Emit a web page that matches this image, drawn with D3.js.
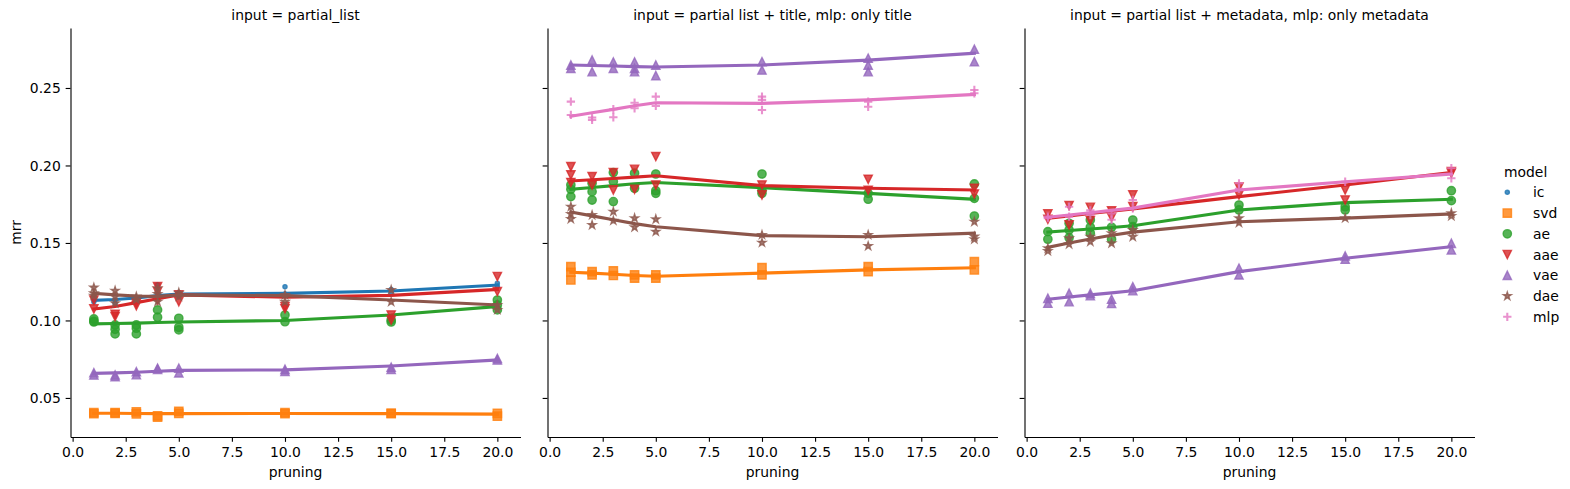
<!DOCTYPE html>
<html>
<head>
<meta charset="utf-8">
<script src="https://cdn.jsdelivr.net/npm/d3@7"></script>
<style>
  html, body { margin: 0; padding: 0; background: #fff; }
  svg { display: block; }
  text { font-family: "DejaVu Sans", sans-serif; fill: #000; }
</style>
</head>
<body>
<svg id="chart" width="1570" height="489"></svg>
<script>
// ---------------- DATA ----------------
const pruning = [1, 2, 3, 4, 5, 10, 15, 20];
const xTickValues = [0, 2.5, 5, 7.5, 10, 12.5, 15, 17.5, 20];
const yTickValues = [0.05, 0.10, 0.15, 0.20, 0.25];
const facetTitles = [
  "input = partial_list",
  "input = partial list + title, mlp: only title",
  "input = partial list + metadata, mlp: only metadata"
];
const models = ["ic", "svd", "ae", "aae", "vae", "dae", "mlp"];
const modelColors = ["#1f77b4", "#ff7f0e", "#2ca02c", "#d62728", "#9467bd", "#8c564b", "#e377c2"];
const modelMarkers = [".", "s", "o", "v", "^", "*", "+"];

// Panel 1: input = partial_list  (observed mrr per pruning value, and lowess fit)
const p1_ic      = [[0.114,0.112],[0.113,0.111],[0.115,0.113],[0.123,0.117],[0.118,0.116],[0.1218,0.117],[0.120,0.118],[0.124,0.122]];
const p1_ic_fit  = [0.113,0.1135,0.1145,0.116,0.117,0.1175,0.119,0.1228];
const p1_svd     = [[0.0405,0.0398],[0.0405,0.0400],[0.0410,0.0397],[0.0385,0.0376],[0.0413,0.0400],[0.0405,0.0398],[0.0402,0.0398],[0.0400,0.0382]];
const p1_svd_fit = [0.0401,0.0401,0.0400,0.0399,0.0399,0.0400,0.0399,0.0396];
const p1_ae      = [[0.101,0.099,0.0995],[0.0971,0.0943,0.0913],[0.0971,0.0950,0.0913],[0.1068,0.1021],[0.1014,0.0956,0.0939],[0.1035,0.0992],[0.1003,0.0990],[0.1132,0.1100,0.1068]];
const p1_ae_fit  = [0.0978,0.0980,0.0983,0.0987,0.0990,0.1000,0.1035,0.1090];
const p1_aae     = [[0.1132,0.1074],[0.1040,0.1025],[0.1110,0.1095],[0.1218,0.1186,0.1132],[0.1165,0.1121],[0.1090,0.1075],[0.1035,0.1003],[0.1283,0.1186]];
const p1_aae_fit = [0.1074,0.1090,0.1115,0.1140,0.1165,0.1150,0.1162,0.1200];
const p1_vae     = [[0.0663,0.0648],[0.0648,0.0638],[0.0669,0.0650],[0.0692,0.0685],[0.0692,0.0662],[0.0685,0.0672],[0.0698,0.0685],[0.0755,0.0745]];
const p1_vae_fit = [0.0659,0.0662,0.0666,0.0672,0.0678,0.0681,0.0706,0.0745];
const p1_dae     = [[0.1212,0.1175,0.1160],[0.1192,0.1154,0.1111],[0.1154,0.1135],[0.1208,0.1171,0.1121],[0.1179,0.1154],[0.1165,0.1120],[0.1197,0.1120],[0.1100,0.1068]];
const p1_dae_fit = [0.1175,0.1165,0.1158,0.1155,0.1165,0.1160,0.1132,0.1100];

// Panel 2: input = partial list + title
const p2_svd     = [[0.1347,0.1311,0.1261],[0.1315,0.1294],[0.1320,0.1290],[0.1294,0.1273],[0.1294,0.1273],[0.1341,0.1294],[0.1347,0.1315],[0.1379,0.1326]];
const p2_svd_fit = [0.1311,0.1305,0.1298,0.1290,0.1285,0.1305,0.1326,0.1340];
const p2_ae      = [[0.1874,0.1846,0.1799],[0.1885,0.1831,0.1777],[0.1954,0.1896,0.1767],[0.1950,0.1853],[0.1945,0.1837,0.1820],[0.1945,0.1840,0.1820],[0.1820,0.1782],[0.1881,0.1788,0.1674]];
const p2_ae_fit  = [0.1846,0.1858,0.1870,0.1882,0.1890,0.1857,0.1820,0.1782];
const p2_aae     = [[0.1992,0.1939,0.1890],[0.1928,0.1874],[0.1954,0.1842],[0.1975,0.1846],[0.2057,0.1874],[0.1874,0.1810],[0.1911,0.1840],[0.1853,0.1816]];
const p2_aae_fit = [0.1900,0.1908,0.1916,0.1925,0.1934,0.1870,0.1853,0.1842];
const p2_vae     = [[0.2648,0.2627],[0.2680,0.2605],[0.2668,0.2627],[0.2668,0.2627,0.2605],[0.2648,0.2580],[0.2670,0.2616],[0.2692,0.2648,0.2605],[0.2750,0.2670]];
const p2_vae_fit = [0.2648,0.2645,0.2642,0.2638,0.2635,0.2648,0.2680,0.2724];
const p2_dae     = [[0.1734,0.1687,0.1655],[0.1680,0.1616],[0.1702,0.1644],[0.1660,0.1601],[0.1653,0.1573],[0.1552,0.1502],[0.1552,0.1480],[0.1637,0.1541,0.1524]];
const p2_dae_fit = [0.1700,0.1675,0.1650,0.1625,0.1605,0.1547,0.1540,0.1563];
const p2_mlp     = [[0.2412,0.2326],[0.2310,0.2294],[0.2363,0.2311],[0.2405,0.2369],[0.2444,0.2384],[0.2444,0.2423,0.2358],[0.2412,0.2379],[0.2487,0.2466]];
const p2_mlp_fit = [0.2318,0.2340,0.2362,0.2385,0.2405,0.2401,0.2423,0.2458];

// Panel 3: input = partial list + metadata
const p3_ae      = [[0.1573,0.1524],[0.1627,0.1584,0.1534],[0.1648,0.1601,0.1563],[0.1601,0.1524],[0.1648,0.1605],[0.1745,0.1713],[0.1734,0.1713],[0.1837,0.1773]];
const p3_ae_fit  = [0.1570,0.1580,0.1590,0.1600,0.1611,0.1713,0.1760,0.1782];
const p3_aae     = [[0.1687,0.1653],[0.1741,0.1616],[0.1730,0.1645],[0.1707,0.1665],[0.1810,0.1734],[0.1860,0.1810],[0.1842,0.1777],[0.1960,0.1950]];
const p3_aae_fit = [0.1660,0.1675,0.1690,0.1705,0.1720,0.1799,0.1874,0.1955];
const p3_vae     = [[0.1143,0.1111],[0.1175,0.1121],[0.1175,0.1160],[0.1137,0.1110],[0.1218,0.1192],[0.1337,0.1294],[0.1416,0.1395],[0.1498,0.1455]];
const p3_vae_fit = [0.1137,0.1151,0.1165,0.1178,0.1192,0.1315,0.1401,0.1476];
const p3_dae     = [[0.1466,0.1448],[0.1530,0.1492],[0.1540,0.1508],[0.1563,0.1498],[0.1584,0.1540],[0.1660,0.1630],[0.1660],[0.1692,0.1674]];
const p3_dae_fit = [0.1472,0.1500,0.1525,0.1550,0.1570,0.1637,0.1660,0.1687];
const p3_mlp     = [[0.1670,0.1660],[0.1734,0.1670],[0.1710,0.1680],[0.1690,0.1650],[0.1777,0.1724],[0.1885,0.1850],[0.1895],[0.1982,0.1917]];
const p3_mlp_fit = [0.1665,0.1680,0.1695,0.1710,0.1725,0.1842,0.1895,0.1945];

const panelSeries = [
  { ic: [p1_ic, p1_ic_fit], svd: [p1_svd, p1_svd_fit], ae: [p1_ae, p1_ae_fit], aae: [p1_aae, p1_aae_fit], vae: [p1_vae, p1_vae_fit], dae: [p1_dae, p1_dae_fit] },
  { svd: [p2_svd, p2_svd_fit], ae: [p2_ae, p2_ae_fit], aae: [p2_aae, p2_aae_fit], vae: [p2_vae, p2_vae_fit], dae: [p2_dae, p2_dae_fit], mlp: [p2_mlp, p2_mlp_fit] },
  { ae: [p3_ae, p3_ae_fit], aae: [p3_aae, p3_aae_fit], vae: [p3_vae, p3_vae_fit], dae: [p3_dae, p3_dae_fit], mlp: [p3_mlp, p3_mlp_fit] }
];

// ---------------- LAYOUT ----------------
const FS = 13.9;
const panelLeft = [70.5, 547.5, 1024.5];
const panelW = 450;
const plotTop = 28, plotBottom = 437;
const tickLen = 4.86, tickPad = 4.86;
const ms = 8.333; // marker size px

const svg = d3.select("#chart");
svg.append("rect").attr("width", 1570).attr("height", 489).attr("fill", "#fff");

const y = d3.scaleLinear().domain([0.0248, 0.2887]).range([plotBottom, plotTop]);

function markerPath(m) {
  const r = ms / 2;
  const circ = rr => `M${rr},0A${rr},${rr} 0 1,1 ${-rr},0A${rr},${rr} 0 1,1 ${rr},0Z`;
  switch (m) {
    case ".": return circ(r * 0.5);
    case "o": return circ(r);
    case "s": return `M${-r},${-r}H${r}V${r}H${-r}Z`;
    case "v": return `M0,${r}L${-r},${-r}L${r},${-r}Z`;
    case "^": return `M0,${-r}L${-r},${r}L${r},${r}Z`;
    case "*": {
      const pts = [];
      for (let i = 0; i < 10; i++) {
        const a = -Math.PI / 2 + i * Math.PI / 5;
        const rad = i % 2 === 0 ? r : r * 0.381966;
        pts.push([rad * Math.cos(a), rad * Math.sin(a)]);
      }
      return "M" + pts.map(p => p[0].toFixed(3) + "," + p[1].toFixed(3)).join("L") + "Z";
    }
    case "+": return `M${-r},0H${r}M0,${-r}V${r}`;
  }
}
function styleMarker(sel, m, color) {
  if (m === "+") {
    sel.attr("fill", "none").attr("stroke", color).attr("stroke-width", 2.08).attr("stroke-opacity", 0.8);
  } else {
    sel.attr("fill", color).attr("fill-opacity", 0.8)
       .attr("stroke", color).attr("stroke-width", 1.39).attr("stroke-opacity", 0.8);
  }
}

panelSeries.forEach((series, pi) => {
  const x0 = panelLeft[pi];
  const x = d3.scaleLinear().domain([-0.1, 21.09]).range([x0, x0 + panelW]);
  const g = svg.append("g");

  // title
  g.append("text").attr("x", x0 + panelW / 2).attr("y", 19.7)
    .attr("text-anchor", "middle").attr("font-size", FS).text(facetTitles[pi]);

  // axes
  const xAxis = d3.axisBottom(x).tickValues(xTickValues).tickFormat(d3.format(".1f"))
    .tickSizeInner(tickLen).tickSizeOuter(0).tickPadding(tickPad);
  const gx = g.append("g").attr("transform", `translate(0,${plotBottom})`).call(xAxis);
  const yAxis = d3.axisLeft(y).tickValues(yTickValues).tickFormat(pi === 0 ? d3.format(".2f") : () => "")
    .tickSizeInner(tickLen).tickSizeOuter(0).tickPadding(tickPad);
  const gy = g.append("g").attr("transform", `translate(${x0},0)`).call(yAxis);
  [gx, gy].forEach(a => {
    a.selectAll("path.domain").attr("stroke", "#000").attr("stroke-width", 1.11);
    a.selectAll(".tick line").attr("stroke", "#000").attr("stroke-width", 1.11);
    a.selectAll(".tick text").attr("font-size", FS).attr("font-family", "DejaVu Sans").attr("fill", "#000");
  });
  gx.selectAll(".tick text").attr("dy", "0.76em");
  gy.selectAll(".tick text").attr("dy", "0.36em");

  // x label
  g.append("text").attr("x", x0 + panelW / 2).attr("y", 477)
    .attr("text-anchor", "middle").attr("font-size", FS).text("pruning");

  // series: scatter then lowess line, in hue order
  const line = d3.line().x((d, i) => x(pruning[i])).y(d => y(d));
  models.forEach((m, mi) => {
    if (!series[m]) return;
    const [pts, fit] = series[m];
    const flat = [];
    pts.forEach((vals, i) => vals.forEach(v => flat.push([pruning[i], v])));
    const sg = g.append("g");
    sg.selectAll("path.pt").data(flat).join("path").attr("class", "pt")
      .attr("d", markerPath(modelMarkers[mi]))
      .attr("transform", d => `translate(${x(d[0])},${y(d[1])})`)
      .call(styleMarker, modelMarkers[mi], modelColors[mi]);
    g.append("path").datum(fit).attr("d", line)
      .attr("fill", "none").attr("stroke", modelColors[mi]).attr("stroke-width", 3.125)
      .attr("stroke-linejoin", "round").attr("stroke-linecap", "square");
  });
});

// y label
svg.append("text").attr("transform", "translate(21.2,232.5) rotate(-90)")
  .attr("text-anchor", "middle").attr("font-size", FS).text("mrr");

// legend
const lg = svg.append("g");
lg.append("text").attr("x", 1504).attr("y", 176.7).attr("font-size", FS).text("model");
models.forEach((m, i) => {
  const cy = 192.3 + 20.75 * i;
  lg.append("path").attr("d", markerPath(modelMarkers[i]))
    .attr("transform", `translate(1507.3,${cy})`)
    .call(styleMarker, modelMarkers[i], modelColors[i]);
  lg.append("text").attr("x", 1533).attr("y", cy + 5).attr("font-size", FS).text(m);
});
</script>
</body>
</html>
